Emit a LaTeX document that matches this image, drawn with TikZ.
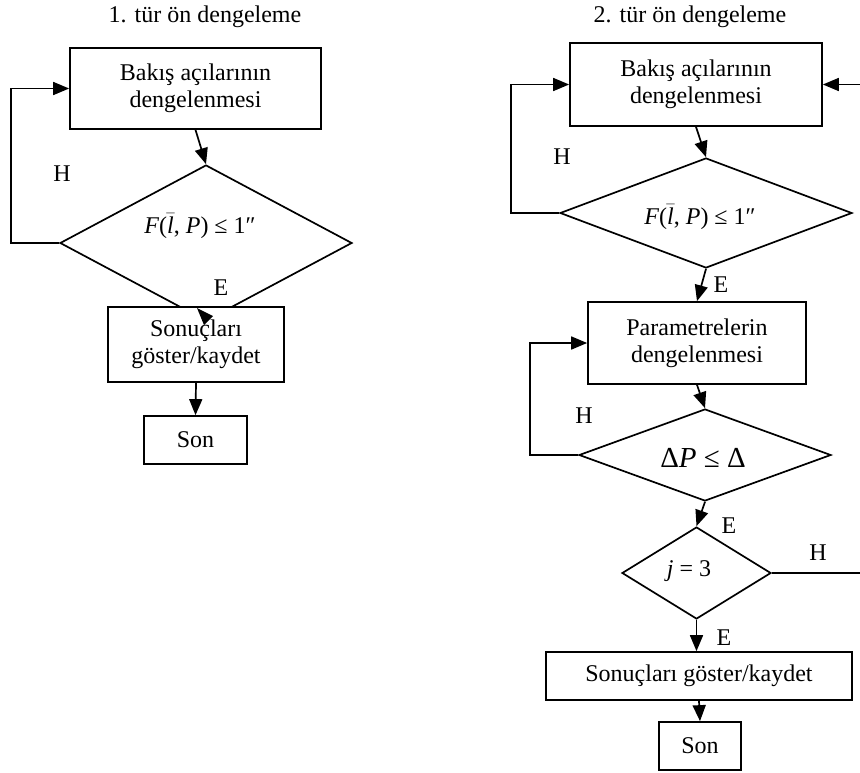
\documentclass[tikz,border=0pt]{standalone}
\usepackage{fontspec}
\setmainfont{Liberation Serif}
\usetikzlibrary{shapes.geometric,arrows.meta}
\newcommand{\lbarit}{$\bar{\mbox{\itshape l}}$}
\begin{document}
\begin{tikzpicture}[x=1pt,y=-1pt,
  every node/.style={font=\fontsize{24}{27}\selectfont},
  box/.style={draw,line width=1.7pt,fill=white,inner sep=0pt,align=center},
  dia/.style={draw,shape=diamond,line width=1.7pt,inner sep=0pt,fill=white},
  arr/.style={line width=1.7pt,-{Triangle[length=16pt,width=13pt]}},
  ln/.style={line width=1.7pt}]
\useasboundingbox (0,0) rectangle (860,772);
\clip (0,0) rectangle (860,772);
\fill[white] (0,0) rectangle (860,772);

% ---------- left flowchart ----------
\node (LT) at (205,17) {1. tür ön dengeleme};
\node[box,minimum width=251pt,minimum height=81pt] (L1) at (195.5,88.5) {Bakış açılarının\\dengelenmesi};
\node[dia,minimum width=292pt,minimum height=156pt] (LD) at (206,243) {};
\node (LDt) at (200,226) {\textit{F}(\lbarit, \textit{P}) ≤ 1″};
\node (LH) at (62,174) {H};
\node (LE) at (221,288) {E};
\draw[arr] (L1.south) -- (LD.north);
\draw[arr] (LD.west) -- ++(-48,0) |- (L1.west);
\node[box,minimum width=176pt,minimum height=75pt] (L2) at (196,344.5) {Sonuçları\\göster/kaydet};
\fill (197,308) -- (213,316) -- (204,325) -- cycle;
\node[box,minimum width=103pt,minimum height=48pt] (L3) at (195.5,440) {Son};
\draw[arr] (L2.south) -- (L3.north);

% ---------- right flowchart ----------
\node (RT) at (690,17) {2. tür ön dengeleme};
\node[box,minimum width=252pt,minimum height=83pt] (R1) at (696,84.5) {Bakış açılarının\\dengelenmesi};
\node[dia,minimum width=292pt,minimum height=110pt] (RD1) at (706,213) {};
\node (RD1t) at (700,217) {\textit{F}(\lbarit, \textit{P}) ≤ 1″};
\node (RH1) at (562,157) {H};
\node (RE1) at (721,285) {E};
\draw[arr] (R1.south) -- (RD1.north);
\draw[arr] (RD1.west) -- ++(-48,0) |- (R1.west);

\node[box,minimum width=218pt,minimum height=82pt] (RP) at (697,343) {Parametrelerin\\dengelenmesi};
\draw[arr] (RD1.south) -- (RP.north);
\node[dia,minimum width=252pt,minimum height=92pt] (RD2) at (705,455) {};
\node[font=\fontsize{29}{30}\selectfont] (RD2t) at (703,458) {Δ\textit{P} ≤ Δ};
\node (RH2) at (584,416) {H};
\node (RE2) at (729,526) {E};
\draw[arr] (RP.south) -- (RD2.north);
\draw[arr] (RD2.west) -- ++(-48,0) |- (RP.west);

\node[dia,minimum width=149pt,minimum height=92pt] (RJ) at (696.5,573) {};
\node (RJt) at (689,571) {\textit{j} = 3};
\node (RH3) at (818,553) {H};
\draw[arr] (RD2.south) -- (RJ.north);
\coordinate (RJR) at (864,573);
\draw[arr] (RJ.east) -- (RJR) |- (R1.east);

\node[box,minimum width=306pt,minimum height=48pt] (RS) at (699,676) {Sonuçları göster/kaydet};
\node (RE3) at (724,638) {E};
\draw[arr] (RJ.south) -- (RS.north -| RJ.south);
\node[box,minimum width=82pt,minimum height=48pt] (RN) at (700,746) {Son};
\draw[arr] (RS.south) -- (RN.north);
\end{tikzpicture}
\end{document}
